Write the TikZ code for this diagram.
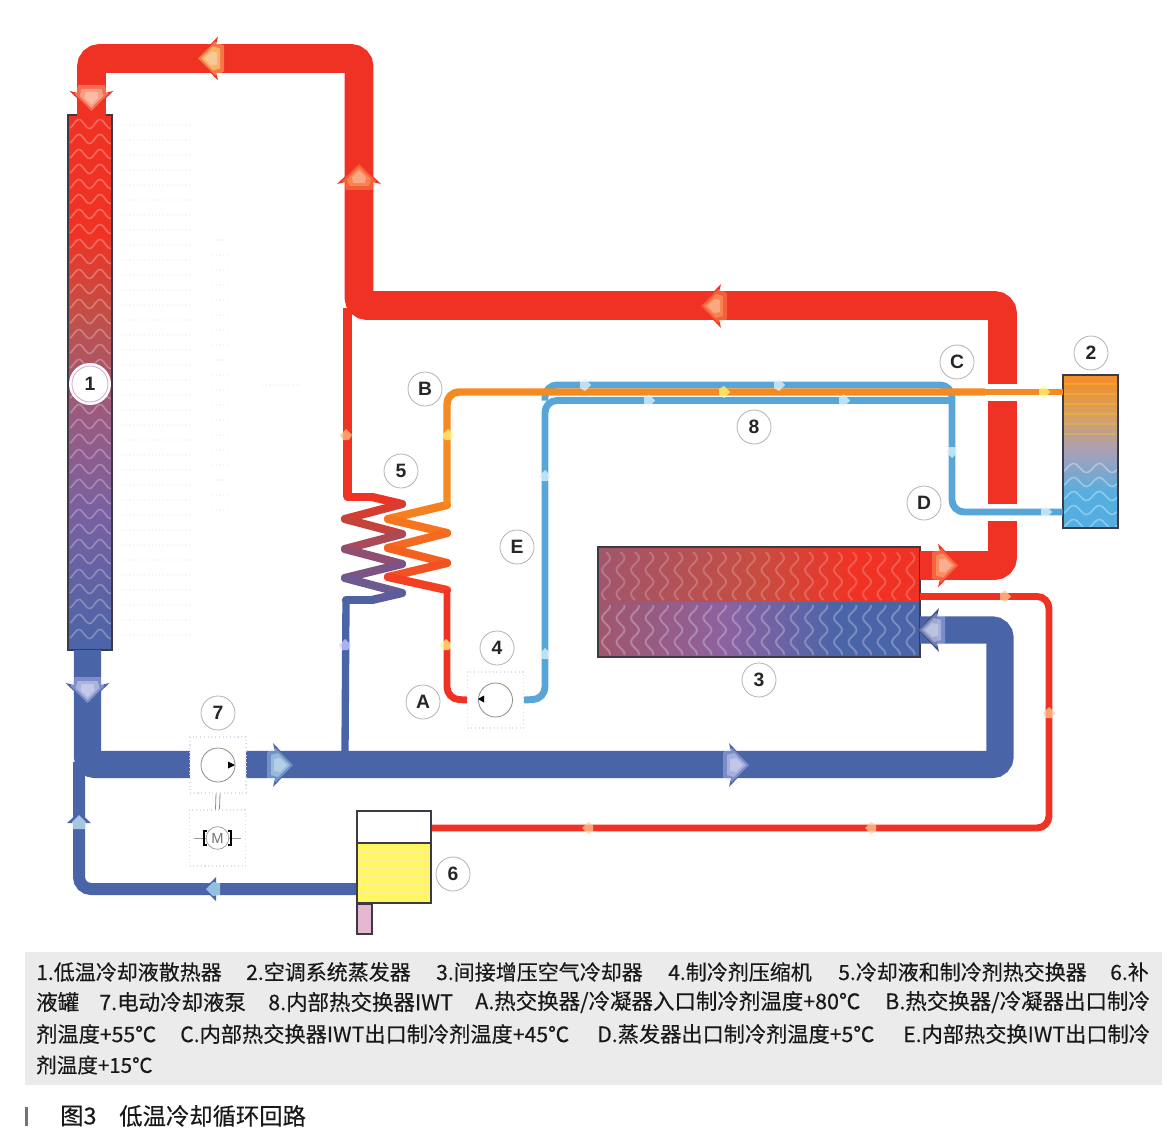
\documentclass[tikz,border=0pt]{standalone}
\usepackage{fontspec}
\setmainfont{Liberation Sans}
\newfontfamily\cjk[FakeBold=0.35]{Noto Sans CJK SC}
\definecolor{hot}{HTML}{F03224}
\definecolor{cold}{HTML}{4A64A8}
\definecolor{sky}{HTML}{58A6D8}
\definecolor{amber}{HTML}{F58A20}
\definecolor{inkline}{HTML}{3C3A44}
\definecolor{ghost}{HTML}{E6D8EE}
\definecolor{radA}{HTML}{7A60A0}
\definecolor{radB}{HTML}{9A5A80}
\definecolor{radC}{HTML}{C05048}
\pgfdeclareverticalshading{radsh}{100bp}{color(0bp)=(cold); color(25bp)=(cold); color(38bp)=(radA); color(47bp)=(radB); color(56bp)=(radC); color(64bp)=(hot); color(75bp)=(hot); color(100bp)=(hot)}
\definecolor{evA}{HTML}{F58C28}
\definecolor{evB}{HTML}{D8A060}
\definecolor{evC}{HTML}{A8A0B8}
\definecolor{evD}{HTML}{54AEE0}
\pgfdeclareverticalshading{evapsh}{100bp}{color(0bp)=(evD); color(25bp)=(evD); color(36bp)=(evD); color(50bp)=(evC); color(62bp)=(evB); color(75bp)=(evA); color(100bp)=(evA)}
\definecolor{coolL}{HTML}{A0566C}
\definecolor{coolM}{HTML}{C84C40}
\definecolor{coolN}{HTML}{8C62A0}
\pgfdeclarehorizontalshading{coolup}{100bp}{color(0bp)=(coolL); color(25bp)=(coolL); color(50bp)=(coolM); color(65bp)=(hot); color(100bp)=(hot)}
\pgfdeclarehorizontalshading{coollow}{100bp}{color(0bp)=(coolL); color(25bp)=(coolL); color(45bp)=(coolN); color(62bp)=(cold); color(100bp)=(cold)}
\tikzset{
  bigred/.style={draw=hot,line width=21.5pt,rounded corners=6pt},
  bigblue/.style={draw=cold,line width=20.5pt,rounded corners=6pt},
  midblue/.style={draw=cold,line width=9pt,rounded corners=9pt},
  thinline/.style={line width=5.2pt,rounded corners=9pt},
  zigline/.style={line width=6.2pt,line cap=round,line join=round},
  unit/.style={draw=inkline,line width=1.6pt,inner sep=0pt},
  tag/.style={circle,draw=black!30,fill=white,line width=.6pt,minimum size=25.5pt,inner sep=0pt,font=\bfseries\fontsize{14.5}{15}\selectfont,text=black!85},
  legend/.style={anchor=west,inner sep=0pt,text=black!90,font=\cjk\fontsize{#1}{17}\selectfont},
  legend/.default=15.75,
  pumpbox/.style={draw=ghost,dotted,line width=.8pt,fill=white,minimum size=42pt,inner sep=0pt},
  pumpring/.style={circle,draw=black!45,line width=.6pt,fill=white,minimum size=25.5pt,inner sep=0pt},
}
\newcommand\wavyrows[7]{\foreach \yy in {#3,#4,...,#5}{\draw[#7,line width=1.2pt] plot[domain=#1:#2,samples=32] (\x,{\yy+4.5*sin(\x*#6)});}}
\newcommand\wavycols[7]{\foreach \xx in {#1,#2,...,#3}{\draw[#7,line width=1.5pt] plot[domain=#4:#5,samples=26] ({\xx+4*sin(\x*#6)},\x);}}
\newcommand\flowarrow[5]{\begin{scope}[shift={(#1,#2)},rotate=#3]
  \fill[#4] (0,0) -- (-21,-22) -- (-19,-13) -- (-19,13) -- (-21,22) -- cycle;
  \fill[#5,opacity=.35] (-1,0) -- (-18,-17) -- (-27,-13) -- (-27,13) -- (-18,17) -- cycle;
  \fill[#5,opacity=.45] (-4,0) -- (-16,-12) -- (-23,-10) -- (-23,10) -- (-16,12) -- cycle;
  \fill[white,opacity=.3] (-7,0) -- (-14,-7) -- (-20,-6) -- (-20,6) -- (-14,7) -- cycle;
\end{scope}}
\newcommand\flowtick[4]{\begin{scope}[shift={(#1,#2)},rotate=#3]
  \fill[#4,opacity=.75] (5,0) -- (-1,-6) -- (-6,-3) -- (-6,3) -- (-1,6) -- cycle;
\end{scope}}
\begin{document}
\begin{tikzpicture}[x=.75pt,y=-.75pt]
\useasboundingbox (0,0) rectangle (1167,1134);
% faint show-through
\foreach \yy in {125,140,...,645}{\draw[ghost!30,dotted,line width=.8pt] (122,\yy) -- (190,\yy);}
\foreach \yy in {240,255,...,520}{\draw[ghost!30,dotted,line width=.8pt] (212,\yy) -- (230,\yy);}
\draw[ghost!30,dotted,line width=.8pt] (262,385) -- (302,385);
% units
\node[minimum width=33pt,minimum height=401.25pt,inner sep=0pt,shading=radsh] (rad) at (90,382.5) {};
\node[minimum width=41.25pt,minimum height=114.75pt,inner sep=0pt,shading=evapsh] (evap) at (1090.5,451.5) {};
\node[minimum width=241.5pt,minimum height=82.5pt,inner sep=0pt] (cool) at (759,602) {};
\fill[shading=coolup] (cool.north west) rectangle (cool.east);
\fill[shading=coollow] (cool.west) rectangle (cool.south east);
\begin{scope}
 \clip (rad.north west) rectangle (rad.south east);
 \wavyrows{70}{111}{124}{139}{644}{17.1}{white,opacity=.28}
\end{scope}
\begin{scope}
 \clip (cool.north west) rectangle (cool.south east);
 \wavycols{606}{620.5}{919}{552}{600}{15}{white,opacity=.2}
 \wavycols{606}{620.5}{919}{605}{655}{15}{white,opacity=.26}
\end{scope}
\begin{scope}
 \clip (evap.north west) rectangle (evap.south east);
 \foreach \yy in {384,394,...,440}{\draw[yellow!70!orange,opacity=.28,line width=1pt] (1063,\yy) -- (1118,\yy);}
 \wavyrows{1064}{1118}{468}{482}{524}{14}{white,opacity=.35}
\end{scope}
\node[unit,minimum width=33pt,minimum height=401.25pt] (radframe) at (rad) {};
\node[unit,minimum width=41.25pt,minimum height=114.75pt] (evapframe) at (evap) {};
\node[unit,minimum width=241.5pt,minimum height=82.5pt] (coolframe) at (cool) {};
% coordinates of the circuit
\coordinate (radTop) at (91.5,116);
\coordinate (tl) at (91.5,58.5);
\coordinate (tr) at (359,58.5);
\coordinate (jr) at (359,305.5);
\coordinate (cr) at (1002.5,305.5);
\coordinate (crb) at (1002.5,565.5);
\coordinate (coolHot) at (920,565.5);
\coordinate (coolCold) at (920,630);
\coordinate (bR) at (1000,630);
\coordinate (bB) at (1000,764.5);
\coordinate (bL) at (87.5,764.5);
\coordinate (radBot) at (87.5,650);
\coordinate (coolRet) at (920,596.5);
\coordinate (retA) at (1049,596.5);
\coordinate (retB) at (1049,828);
\coordinate (tankIn) at (431,828);
\coordinate (feedA) at (79,762);
\coordinate (feedB) at (79,889);
\coordinate (tankOut) at (358,889);
% big pipes
\draw[bigblue] (radBot) -- (bL) -- (bB) -- (bR) -- (coolCold);
\draw[midblue] (feedA) -- (feedB) -- (tankOut);
\draw[bigred] (coolHot) -- (crb) -- (cr) -- (jr) -- (tr) -- (tl) -- (radTop);
\fill[white] (985,384) rectangle (1020,401);
\fill[white] (985,504) rectangle (1020,521);
% left thin circuit and exchanger 5
\coordinate (hotTap) at (347.5,308);
\coordinate (coldTap) at (345,752);
\coordinate (L0) at (347.5,497);
\coordinate (L1) at (372,497);
\coordinate (L2) at (402,504);
\coordinate (L3) at (345,519);
\coordinate (L4) at (402,534);
\coordinate (L5) at (345,549);
\coordinate (L6) at (402,564);
\coordinate (L7) at (345,578);
\coordinate (L8) at (402,593);
\coordinate (L9) at (372,600);
\coordinate (L10) at (346,600);
\draw[hot,line width=6.5pt] (hotTap) -- (L0);
\draw[cold,line width=5.5pt] (coldTap) -- (L10);
\foreach \p/\q/\cc in {L0/L1/F03224,L1/L2/EE3226,L2/L3/D83C30,L3/L4/C4443C,L4/L5/AA4A58,L5/L6/904E70,L6/L7/7C5484,L7/L8/6C5A90,L8/L9/5C5E9C,L9/L10/4E62A4}{
  \definecolor{segc}{HTML}{\cc}
  \draw[segc,zigline] (\p) -- (\q);
}
\coordinate (R0) at (447,392);
\coordinate (R1) at (447,505);
\coordinate (R2) at (388,519);
\coordinate (R3) at (447,533);
\coordinate (R4) at (388,548);
\coordinate (R5) at (447,563);
\coordinate (R6) at (388,577);
\coordinate (R7) at (447,590);
\foreach \p/\q/\cc in {R1/R2/F58020,R2/R3/F57420,R3/R4/F46A20,R4/R5/F36020,R5/R6/F25222,R6/R7/F14023}{
  \definecolor{segc}{HTML}{\cc}
  \draw[segc,zigline] (\p) -- (\q);
}
% compressor 4
\node[pumpbox] (comp) at (495.5,700) {};
\node[pumpring] (compring) at (495.5,700) {};
\fill[black] (478,699) -- (484,695.5) -- (484,702.5) -- cycle;
% refrigerant lines
\coordinate (Ra) at (447,699);
\coordinate (Ea) at (545,699);
\coordinate (Eb) at (545,400.5);
\coordinate (Ec) at (952,400.5);
\coordinate (Ca) at (545,385);
\coordinate (Cb) at (952,385);
\coordinate (Cc) at (952,512);
\draw[hot,thinline] (R7) -- (Ra) -- (comp.west);
\draw[sky,thinline] (comp.east) -- (Ea) -- (Eb) -- (Ec);
\draw[sky,thinline] (Eb) -- (Ca) -- (Cb) -- (Cc) -- (evap.west |- Cc);
\draw[amber,line width=5.6pt,rounded corners=9pt] (R1) -- (R0) -- (985,392);
\draw[amber,line width=4.4pt] (985,392) -- (evap.west |- R0);
% return line to tank
\draw[hot,thinline] (coolRet) -- (retA) -- (retB) -- (tankIn);
% tank 6
\node[unit,fill=white,minimum width=55.5pt,minimum height=69pt] (tank) at (394,857) {};
\fill[yellow!62!white] (358,844) rectangle (430,902);
\foreach \yy in {852,860,...,898}{\draw[orange!20!white,line width=1.8pt,opacity=.55] (359,\yy) -- (429,\yy);}
\draw[inkline,line width=1.4pt] (357,843) -- (431,843);
\node[unit,minimum width=55.5pt,minimum height=69pt] (tankframe) at (394,857) {};
\node[unit,fill=pink!65!violet!55,minimum width=11pt,minimum height=22.5pt,anchor=north] (stub) at (364.5,903) {};
% pump 7 and motor
\node[pumpbox] (pump) at (218,765) {};
\node[pumpring] (pumpdisc) at (218,765) {};
\fill[black] (235,765) -- (228,761.5) -- (228,768.5) -- cycle;
\node[pumpbox] (motorbox) at (217.5,838) {};
\draw[black!45,line width=.6pt] ([xshift=-1.5pt]pump.south) -- ([xshift=-1.5pt]motorbox.north);
\draw[black!45,line width=.6pt] ([xshift=1.5pt]pump.south) -- ([xshift=1.5pt]motorbox.north);
\node[circle,draw=black!40,line width=.5pt,fill=white,minimum size=17pt,inner sep=0pt,font=\fontsize{11}{11}\selectfont,text=black!55] (motor) at (217.5,838) {M};
\draw[black!40,line width=.5pt] (194,838) -- (motor.west) (motor.east) -- (241,838);
\draw[black,line width=1.5pt] (207,831) -- (204,831) -- (204,845) -- (207,845);
\draw[black,line width=1.5pt] (228,831) -- (231,831) -- (231,845) -- (228,845);
% big arrows
\flowarrow{197}{58.5}{180}{hot}{yellow!45!white}
\flowarrow{91.5}{112}{-90}{hot}{orange!30!white}
\flowarrow{359}{163}{90}{hot}{orange!60!white}
\flowarrow{700}{306}{180}{hot}{orange!60!white}
\flowarrow{959}{565.5}{0}{hot}{orange!50!white}
\flowarrow{918}{630}{180}{cold!80!black}{blue!15!white}
\flowarrow{87.5}{704}{-90}{cold}{blue!12!white}
\flowarrow{294}{765}{0}{cold}{cyan!25!white}
\flowarrow{750}{765}{0}{cold}{blue!15!white}
% medium arrows
\begin{scope}[shift={(204,889)}]
 \fill[cold] (0,0) -- (12,-12) -- (12,12) -- cycle;
 \fill[cyan!30!white,opacity=.7] (2,0) -- (9,-7) -- (16,-6) -- (16,6) -- (9,7) -- cycle;
\end{scope}
\begin{scope}[shift={(79,812)}]
 \fill[cold] (0,0) -- (-12,11) -- (12,11) -- cycle;
 \fill[cyan!20!white,opacity=.7] (0,3) -- (-7,10) -- (-6,17) -- (6,17) -- (7,10) -- cycle;
\end{scope}
% small ticks
\flowtick{346}{434}{90}{orange!50!white}
\flowtick{345}{644}{90}{blue!20!white}
\foreach \tx/\ty/\ta in {448/434/90,446/644/90,725/392/0,1045/392/0}{\flowtick{\tx}{\ty}{\ta}{yellow!50!white}}
\foreach \tx/\ty/\ta in {545/475/90,545/653/90,586/385/0,650/400.5/0,780/385/0,845/400.5/0,952/453/-90,1047/512/0}{\flowtick{\tx}{\ty}{\ta}{cyan!12!white}}
\foreach \tx/\ty/\ta in {1006/596.5/0,1049/712/90,870/828/180,587/828/180}{\flowtick{\tx}{\ty}{\ta}{orange!40!white}}
% tags
\node[circle,fill=white,minimum size=31.5pt,inner sep=0pt] (t1disc) at (90,384) {};
\node[tag,draw=violet!35,minimum size=27pt] (t1) at (t1disc) {1};
\node[tag] (t2) at (1091,353) {2};
\node[tag] (t3) at (759,680) {3};
\node[tag] (t4) at (497,648) {4};
\node[tag] (t5) at (401,471) {5};
\node[tag] (t6) at (453,874) {6};
\node[tag] (t7) at (218,713) {7};
\node[tag] (t8) at (754,427) {8};
\node[tag] (tA) at (423,702) {A};
\node[tag] (tB) at (425,389) {B};
\node[tag] (tC) at (957,362) {C};
\node[tag] (tD) at (924,503) {D};
\node[tag] (tE) at (517,547) {E};
% legend
\fill[black!8] (25,952) rectangle (1162,1085);
\node[legend] (l1) at (36,972) {1.低温冷却液散热器};
\node[legend] (l2) at (246,972) {2.空调系统蒸发器};
\node[legend] (l3) at (436,972) {3.间接增压空气冷却器};
\node[legend] (l4) at (668,972) {4.制冷剂压缩机};
\node[legend] (l5) at (838,972) {5.冷却液和制冷剂热交换器};
\node[legend] (l6) at (1110,972) {6.补};
\node[legend=16.1] (l7) at (36,1002) {液罐};
\node[legend=16.1] (l8) at (99,1002) {7.电动冷却液泵};
\node[legend=16.1] (l9) at (268,1002) {8.内部热交换器IWT};
\node[legend=16.1] (l10) at (475,1002) {A.热交换器/冷凝器入口制冷剂温度+80℃};
\node[legend=16.1] (l11) at (885,1002) {B.热交换器/冷凝器出口制冷};
\node[legend=15.9] (l12) at (36,1034) {剂温度+55℃};
\node[legend=15.9] (l13) at (180,1034) {C.内部热交换器IWT出口制冷剂温度+45℃};
\node[legend=15.9] (l14) at (597,1034) {D.蒸发器出口制冷剂温度+5℃};
\node[legend=15.9] (l15) at (903,1034) {E.内部热交换IWT出口制冷};
\node[legend=15.4] (l16) at (36,1065) {剂温度+15℃};
% caption
\fill[black!55] (25,1107) rectangle (28,1126);
\node[legend=17.5] (c1) at (60,1116) {图3};
\node[legend=17.5] (c2) at (119,1116) {低温冷却循环回路};
\end{tikzpicture}
\end{document}
